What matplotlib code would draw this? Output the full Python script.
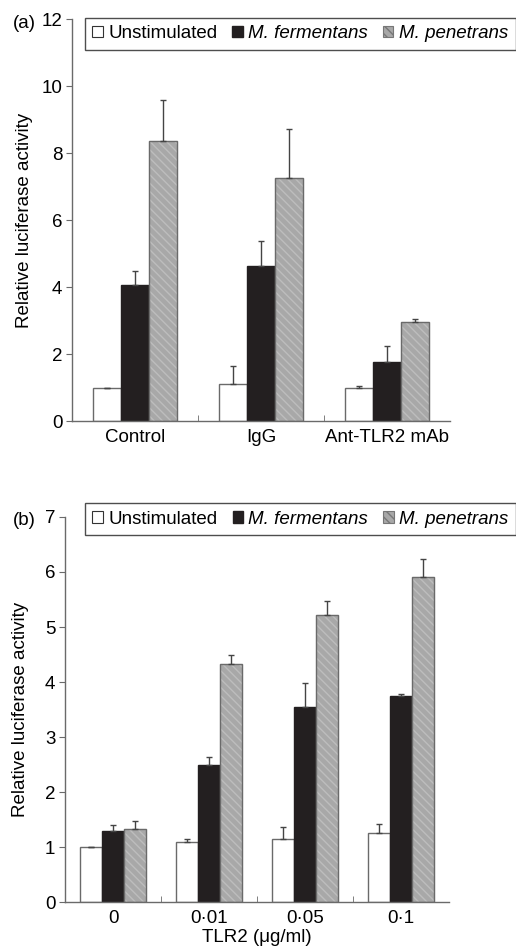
import numpy as np
import matplotlib
matplotlib.use('Agg')
import matplotlib.pyplot as plt
from matplotlib.patches import Patch

plt.rcParams['font.family'] = ['Liberation Sans', 'DejaVu Sans']
plt.rcParams['hatch.linewidth'] = 1.0

series = ['Unstimulated', 'M. fermentans', 'M. penetrans']

# Panel (a)
groups_a = ['Control', 'IgG', 'Ant-TLR2 mAb']
unstim_a = [1.0, 1.12, 1.0]
unstim_a_err = [0.0, 0.52, 0.06]
ferm_a = [4.05, 4.64, 1.77]
ferm_a_err = [0.43, 0.74, 0.48]
pen_a = [8.37, 7.26, 2.95]
pen_a_err = [1.22, 1.47, 0.09]

# Panel (b)
groups_b = ['0', '0\u00b701', '0\u00b705', '0\u00b71']
unstim_b = [1.0, 1.09, 1.15, 1.26]
unstim_b_err = [0.0, 0.06, 0.22, 0.16]
ferm_b = [1.30, 2.49, 3.55, 3.75]
ferm_b_err = [0.10, 0.14, 0.44, 0.03]
pen_b = [1.33, 4.33, 5.21, 5.90]
pen_b_err = [0.15, 0.16, 0.26, 0.34]

FS = 13.5
EDGE = '#6a6a6a'
GREY = '#a8a8a8'
HATCH_C = '#bdbdbd'


def draw(ax, groups, vals, errs, width, ymax, yticks, leg_anchor):
    x = np.arange(len(groups))
    styles = [dict(color='white', edgecolor=EDGE, hatch=None),
              dict(color='#231f20', edgecolor='#231f20', hatch=None),
              dict(color=GREY, edgecolor=HATCH_C, hatch='\\\\\\\\')]
    for i, (v, e, st) in enumerate(zip(vals, errs, styles)):
        pos = x + (i - 1) * width
        ax.bar(pos, v, width, color=st['color'], edgecolor=st['edgecolor'],
               hatch=st['hatch'], linewidth=0.8 if i == 2 else 1.0, zorder=2)
        if i == 2:
            ax.bar(pos, v, width, fill=False, edgecolor=EDGE, linewidth=1.0, zorder=3)
        n = len(v)
        ax.errorbar(pos, v, yerr=[np.zeros(n), e], fmt='none', ecolor='#444444',
                    elinewidth=1.0, capsize=2.5, capthick=1.0, zorder=4)
    ax.set_xlim(-0.5, len(groups) - 0.5)
    ax.set_ylim(0, ymax)
    ax.set_yticks(yticks)
    ax.set_xticks(x)
    ax.set_xticklabels(groups, fontsize=FS)
    ax.set_xticks(np.arange(len(groups) - 1) + 0.5, minor=True)
    ax.tick_params(axis='x', which='major', length=0, pad=6)
    ax.tick_params(axis='x', which='minor', direction='in', length=4, color=EDGE)
    ax.tick_params(axis='y', direction='out', length=4, color=EDGE, labelsize=FS, pad=3)
    for s in ['top', 'right']:
        ax.spines[s].set_visible(False)
    for s in ['left', 'bottom']:
        ax.spines[s].set_color(EDGE)
        ax.spines[s].set_linewidth(1.0)
    ax.set_ylabel('Relative luciferase activity', fontsize=FS)

    handles = [Patch(facecolor='white', edgecolor='#333333', linewidth=0.8),
               Patch(facecolor='#231f20', edgecolor='#231f20'),
               Patch(facecolor=GREY, edgecolor='#777777', hatch='\\\\\\\\', linewidth=0.8)]
    leg = ax.legend(handles, series, ncol=3, loc='upper left',
                    bbox_to_anchor=leg_anchor, fontsize=FS, frameon=True,
                    fancybox=False, edgecolor='#222222', handlelength=0.55,
                    handleheight=0.55, handletextpad=0.3, columnspacing=0.8,
                    borderpad=0.4, borderaxespad=0.0)
    leg.get_frame().set_linewidth(1.0)
    for t in leg.get_texts()[1:]:
        t.set_fontstyle('italic')


fig = plt.figure(figsize=(5.16, 9.5), dpi=100)

ax1 = fig.add_axes([0.1395, 0.5568, 0.7325, 0.4232])
draw(ax1, groups_a, [unstim_a, ferm_a, pen_a], [unstim_a_err, ferm_a_err, pen_a_err],
     0.222, 12, range(0, 13, 2), (0.034, 1.003))
ax1.yaxis.set_label_coords(-0.103, 0.5)
fig.text(0.024, 0.975, '(a)', fontsize=FS, va='center')

ax2 = fig.add_axes([0.126, 0.0505, 0.744, 0.4053])
draw(ax2, groups_b, [unstim_b, ferm_b, pen_b], [unstim_b_err, ferm_b_err, pen_b_err],
     0.229, 7, range(0, 8), (0.052, 1.036))
ax2.set_xlabel('TLR2 (\u03bcg/ml)', fontsize=FS, labelpad=1)
ax2.yaxis.set_label_coords(-0.094, 0.5)
fig.text(0.024, 0.452, '(b)', fontsize=FS, va='center')

fig.savefig('out.png', dpi=100)
